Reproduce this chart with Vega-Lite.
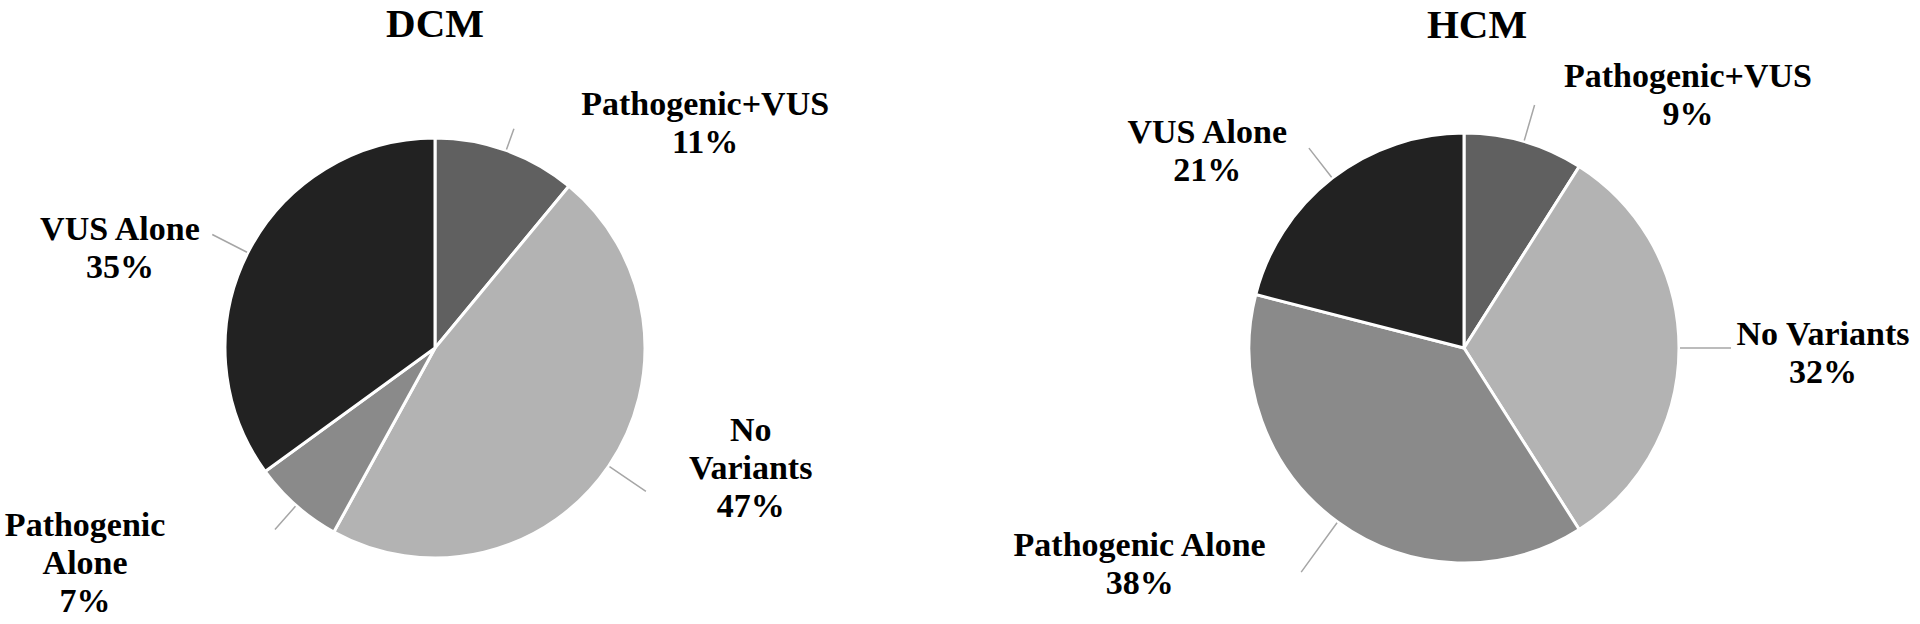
{
  "$schema": "https://vega.github.io/schema/vega-lite/v6.json",
  "background": "white",
  "padding": {"left": 0, "top": 4, "right": 0, "bottom": 0},
  "config": {"view": {"stroke": null}, "font": "Liberation Serif"},
  "datasets": {
    "pies": [
      {"chart": "DCM", "category": "Pathogenic+VUS", "value": 11, "order": 1, "label": "Pathogenic+VUS\n11%"},
      {"chart": "DCM", "category": "No Variants", "value": 47, "order": 2, "label": "No\nVariants\n47%"},
      {"chart": "DCM", "category": "Pathogenic Alone", "value": 7, "order": 3, "label": "Pathogenic\nAlone\n7%"},
      {"chart": "DCM", "category": "VUS Alone", "value": 35, "order": 4, "label": "VUS Alone\n35%"},
      {"chart": "HCM", "category": "Pathogenic+VUS", "value": 9, "order": 1, "label": "Pathogenic+VUS\n9%"},
      {"chart": "HCM", "category": "No Variants", "value": 32, "order": 2, "label": "No Variants\n32%"},
      {"chart": "HCM", "category": "Pathogenic Alone", "value": 38, "order": 3, "label": "Pathogenic Alone\n38%"},
      {"chart": "HCM", "category": "VUS Alone", "value": 21, "order": 4, "label": "VUS Alone\n21%"}
    ]
  },
  "spacing": 138,
  "bounds": "flush",
  "hconcat": [
    {
      "width": 870,
      "height": 552,
      "title": {"text": "DCM", "font": "Liberation Serif", "fontSize": 41, "fontWeight": "bold", "color": "#000000", "baseline": "alphabetic", "offset": -6, "anchor": "middle", "frame": "group"},
      "data": {"name": "pies"},
      "transform": [{"filter": "datum.chart === 'DCM'"}],
      "encoding": {
        "theta": {"field": "value", "type": "quantitative", "stack": true},
        "order": {"field": "order", "type": "quantitative"},
        "detail": {"field": "category", "type": "nominal"}
      },
      "layer": [
        {
          "mark": {"type": "arc", "radius": 210, "stroke": "white", "strokeWidth": 3},
          "encoding": {
            "color": {"field": "category", "type": "nominal", "legend": null,
              "scale": {"domain": ["Pathogenic+VUS", "No Variants", "Pathogenic Alone", "VUS Alone"], "range": ["#606060", "#b3b3b3", "#8a8a8a", "#222222"]}}
          }
        },
        {
          "mark": {"type": "arc", "radius": 233, "radius2": 211, "padAngle": 3, "filled": false, "stroke": "#a6a6a6", "strokeWidth": 1.5},
          "encoding": {"strokeOpacity": {"condition": {"test": "datum.category === 'Pathogenic+VUS'", "value": 1}, "value": 0}}
        },
        {
          "mark": {"type": "arc", "radius": 255, "radius2": 211, "padAngle": 3, "filled": false, "stroke": "#a6a6a6", "strokeWidth": 1.5},
          "encoding": {"strokeOpacity": {"condition": {"test": "datum.category === 'No Variants'", "value": 1}, "value": 0}}
        },
        {
          "mark": {"type": "arc", "radius": 242, "radius2": 211, "padAngle": 3, "filled": false, "stroke": "#a6a6a6", "strokeWidth": 1.5},
          "encoding": {"strokeOpacity": {"condition": {"test": "datum.category === 'Pathogenic Alone'", "value": 1}, "value": 0}}
        },
        {
          "mark": {"type": "arc", "radius": 250, "radius2": 211, "padAngle": 3, "filled": false, "stroke": "#a6a6a6", "strokeWidth": 1.5},
          "encoding": {"strokeOpacity": {"condition": {"test": "datum.category === 'VUS Alone'", "value": 1}, "value": 0}}
        },
        {
          "mark": {"type": "text", "radius": 210, "dx": 199, "dy": -35, "align": "center", "baseline": "alphabetic", "fontSize": 34, "fontWeight": "bold", "font": "Liberation Serif", "lineBreak": "\n", "lineHeight": 38, "color": "#000000"},
          "encoding": {"text": {"condition": {"test": "datum.category === 'Pathogenic+VUS'", "field": "label", "type": "nominal"}, "value": ""}}
        },
        {
          "mark": {"type": "text", "radius": 210, "dx": 142, "dy": -25, "align": "center", "baseline": "alphabetic", "fontSize": 34, "fontWeight": "bold", "font": "Liberation Serif", "lineBreak": "\n", "lineHeight": 38, "color": "#000000"},
          "encoding": {"text": {"condition": {"test": "datum.category === 'No Variants'", "field": "label", "type": "nominal"}, "value": ""}}
        },
        {
          "mark": {"type": "text", "radius": 210, "dx": -211, "dy": 30, "align": "center", "baseline": "alphabetic", "fontSize": 34, "fontWeight": "bold", "font": "Liberation Serif", "lineBreak": "\n", "lineHeight": 38, "color": "#000000"},
          "encoding": {"text": {"condition": {"test": "datum.category === 'Pathogenic Alone'", "field": "label", "type": "nominal"}, "value": ""}}
        },
        {
          "mark": {"type": "text", "radius": 210, "dx": -128, "dy": -13, "align": "center", "baseline": "alphabetic", "fontSize": 34, "fontWeight": "bold", "font": "Liberation Serif", "lineBreak": "\n", "lineHeight": 38, "color": "#000000"},
          "encoding": {"text": {"condition": {"test": "datum.category === 'VUS Alone'", "field": "label", "type": "nominal"}, "value": ""}}
        }
      ]
    },
    {
      "width": 912,
      "height": 552,
      "title": {"text": "HCM", "font": "Liberation Serif", "fontSize": 41, "fontWeight": "bold", "color": "#000000", "baseline": "alphabetic", "offset": -19, "dx": 13, "anchor": "middle", "frame": "group"},
      "data": {"name": "pies"},
      "transform": [{"filter": "datum.chart === 'HCM'"}],
      "encoding": {
        "theta": {"field": "value", "type": "quantitative", "stack": true},
        "order": {"field": "order", "type": "quantitative"},
        "detail": {"field": "category", "type": "nominal"}
      },
      "layer": [
        {
          "mark": {"type": "arc", "radius": 215, "stroke": "white", "strokeWidth": 3},
          "encoding": {
            "color": {"field": "category", "type": "nominal", "legend": null,
              "scale": {"domain": ["Pathogenic+VUS", "No Variants", "Pathogenic Alone", "VUS Alone"], "range": ["#606060", "#b3b3b3", "#8a8a8a", "#222222"]}}
          }
        },
        {
          "mark": {"type": "arc", "radius": 253, "radius2": 216, "padAngle": 3, "filled": false, "stroke": "#a6a6a6", "strokeWidth": 1.5},
          "encoding": {"strokeOpacity": {"condition": {"test": "datum.category === 'Pathogenic+VUS'", "value": 1}, "value": 0}}
        },
        {
          "mark": {"type": "arc", "radius": 267, "radius2": 216, "padAngle": 3, "filled": false, "stroke": "#a6a6a6", "strokeWidth": 1.5},
          "encoding": {"strokeOpacity": {"condition": {"test": "datum.category === 'No Variants'", "value": 1}, "value": 0}}
        },
        {
          "mark": {"type": "arc", "radius": 277, "radius2": 216, "padAngle": 3, "filled": false, "stroke": "#a6a6a6", "strokeWidth": 1.5},
          "encoding": {"strokeOpacity": {"condition": {"test": "datum.category === 'Pathogenic Alone'", "value": 1}, "value": 0}}
        },
        {
          "mark": {"type": "arc", "radius": 253, "radius2": 216, "padAngle": 3, "filled": false, "stroke": "#a6a6a6", "strokeWidth": 1.5},
          "encoding": {"strokeOpacity": {"condition": {"test": "datum.category === 'VUS Alone'", "value": 1}, "value": 0}}
        },
        {
          "mark": {"type": "text", "radius": 215, "dx": 164, "dy": -55, "align": "center", "baseline": "alphabetic", "fontSize": 34, "fontWeight": "bold", "font": "Liberation Serif", "lineBreak": "\n", "lineHeight": 38, "color": "#000000"},
          "encoding": {"text": {"condition": {"test": "datum.category === 'Pathogenic+VUS'", "field": "label", "type": "nominal"}, "value": ""}}
        },
        {
          "mark": {"type": "text", "radius": 215, "dx": 144, "dy": -3, "align": "center", "baseline": "alphabetic", "fontSize": 34, "fontWeight": "bold", "font": "Liberation Serif", "lineBreak": "\n", "lineHeight": 38, "color": "#000000"},
          "encoding": {"text": {"condition": {"test": "datum.category === 'No Variants'", "field": "label", "type": "nominal"}, "value": ""}}
        },
        {
          "mark": {"type": "text", "radius": 215, "dx": -198, "dy": 34, "align": "center", "baseline": "alphabetic", "fontSize": 34, "fontWeight": "bold", "font": "Liberation Serif", "lineBreak": "\n", "lineHeight": 38, "color": "#000000"},
          "encoding": {"text": {"condition": {"test": "datum.category === 'Pathogenic Alone'", "field": "label", "type": "nominal"}, "value": ""}}
        },
        {
          "mark": {"type": "text", "radius": 215, "dx": -125, "dy": -35, "align": "center", "baseline": "alphabetic", "fontSize": 34, "fontWeight": "bold", "font": "Liberation Serif", "lineBreak": "\n", "lineHeight": 38, "color": "#000000"},
          "encoding": {"text": {"condition": {"test": "datum.category === 'VUS Alone'", "field": "label", "type": "nominal"}, "value": ""}}
        }
      ]
    }
  ]
}
